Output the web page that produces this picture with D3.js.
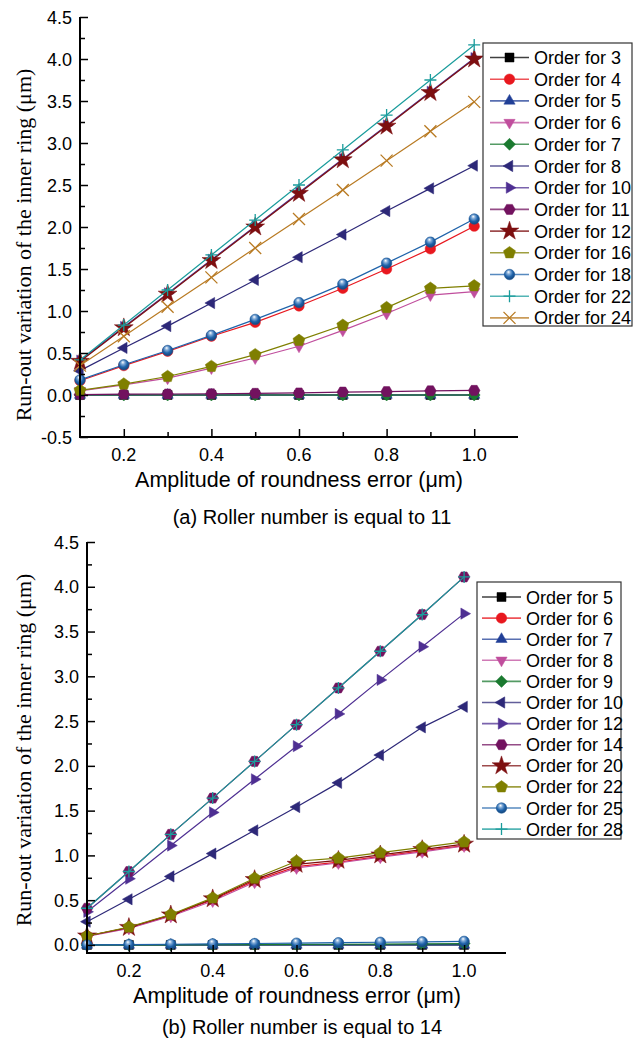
<!DOCTYPE html>
<html>
<head>
<meta charset="utf-8">
<script src="https://cdn.jsdelivr.net/npm/d3@7"></script>
<style>
  body { margin: 0; background: #fff; }
  svg { display: block; }
  .tick-label { font-family: "Liberation Sans", Arial, sans-serif; font-size: 18px; fill: #000; }
  .x-title { font-family: "Liberation Sans", Arial, sans-serif; font-size: 21.5px; fill: #000; }
  .caption { font-family: "Liberation Sans", Arial, sans-serif; font-size: 20px; fill: #000; }
  .legend-text { font-family: "Liberation Sans", Arial, sans-serif; font-size: 18px; fill: #000; }
</style>
</head>
<body>
<svg id="chart" width="634" height="1046"></svg>
<script>
// x values shared by both panels
const amplitudes = [0.1, 0.2, 0.3, 0.4, 0.5, 0.6, 0.7, 0.8, 0.9, 1.0];

// (a) roller number 11
const ordersA = [3, 4, 5, 6, 7, 8, 10, 11, 12, 16, 18, 22, 24];
const a3  = [0, 0, 0, 0, 0, 0, 0, 0, 0, 0];
const a4  = [0.17, 0.35, 0.52, 0.70, 0.865, 1.06, 1.27, 1.50, 1.74, 2.01];
const a5  = [0, 0, 0, 0, 0, 0, 0, 0, 0, 0];
const a6  = [0.05, 0.12, 0.20, 0.32, 0.44, 0.58, 0.77, 0.97, 1.19, 1.23];
const a7  = [0, 0, 0, 0, 0, 0, 0, 0, 0, 0];
const a8  = [0.29, 0.56, 0.82, 1.095, 1.37, 1.64, 1.91, 2.19, 2.46, 2.73];
const a10 = [0.41, 0.81, 1.21, 1.61, 2.01, 2.41, 2.81, 3.21, 3.61, 4.01];
const a11 = [0.005, 0.01, 0.012, 0.015, 0.02, 0.025, 0.035, 0.04, 0.05, 0.055];
const a12 = [0.40, 0.80, 1.20, 1.60, 2.00, 2.40, 2.80, 3.20, 3.60, 4.00];
const a16 = [0.055, 0.13, 0.22, 0.34, 0.48, 0.65, 0.83, 1.04, 1.27, 1.30];
const a18 = [0.18, 0.36, 0.53, 0.71, 0.90, 1.10, 1.32, 1.57, 1.82, 2.095];
const a22 = [0.417, 0.833, 1.25, 1.667, 2.083, 2.50, 2.917, 3.333, 3.75, 4.167];
const a24 = [0.35, 0.70, 1.05, 1.40, 1.75, 2.095, 2.44, 2.79, 3.14, 3.49];
const seriesA = [a3, a4, a5, a6, a7, a8, a10, a11, a12, a16, a18, a22, a24];

// (b) roller number 14
const ordersB = [5, 6, 7, 8, 9, 10, 12, 14, 20, 22, 25, 28];
const b5  = [0, 0, 0, 0, 0, 0, 0, 0, 0, 0];
const b6  = [0.10, 0.19, 0.33, 0.505, 0.715, 0.875, 0.925, 0.99, 1.05, 1.11];
const b7  = [0, 0, 0, 0, 0, 0, 0, 0, 0, 0];
const b8  = [0.095, 0.185, 0.32, 0.49, 0.70, 0.86, 0.915, 0.98, 1.04, 1.105];
const b9  = [0, 0, 0, 0.002, 0.004, 0.006, 0.008, 0.01, 0.012, 0.015];
const b10 = [0.26, 0.51, 0.765, 1.02, 1.28, 1.54, 1.81, 2.12, 2.43, 2.66];
const b12 = [0.37, 0.74, 1.11, 1.48, 1.85, 2.22, 2.58, 2.96, 3.33, 3.70];
const b14 = [0.41, 0.82, 1.235, 1.64, 2.05, 2.46, 2.87, 3.28, 3.69, 4.11];
const b20 = [0.10, 0.195, 0.335, 0.515, 0.73, 0.90, 0.945, 1.005, 1.065, 1.125];
const b22 = [0.10, 0.20, 0.34, 0.525, 0.745, 0.935, 0.97, 1.03, 1.09, 1.15];
const b25 = [0.0, 0.004, 0.008, 0.012, 0.016, 0.02, 0.025, 0.03, 0.035, 0.04];
const b28 = [0.41, 0.82, 1.235, 1.64, 2.05, 2.46, 2.87, 3.28, 3.69, 4.11];
const seriesB = [b5, b6, b7, b8, b9, b10, b12, b14, b20, b22, b25, b28];

const yTicks = [-0.5, 0.0, 0.5, 1.0, 1.5, 2.0, 2.5, 3.0, 3.5, 4.0, 4.5];
const xTicks = [0.2, 0.4, 0.6, 0.8, 1.0];

// styles, in legend order
const stylesA = [
  {c: "#000000", s: "square"},   {c: "#e8181f", s: "circle"},
  {c: "#203f97", s: "triUp"},    {c: "#c04e9d", s: "triDown"},
  {c: "#1b7a30", s: "diamond"},  {c: "#2d2878", s: "triLeft"},
  {c: "#4e2f92", s: "triRight"}, {c: "#72125f", s: "hexagon"},
  {c: "#7d0f10", s: "star"},     {c: "#7f7f00", s: "pentagon"},
  {c: "#1f63aa", s: "sphere"},   {c: "#1a9c9c", s: "plus"},
  {c: "#b87a22", s: "times"}
];
const stylesB = [
  {c: "#000000", s: "square"},   {c: "#e8181f", s: "circle"},
  {c: "#203f97", s: "triUp"},    {c: "#c04e9d", s: "triDown"},
  {c: "#1b7a30", s: "diamond"},  {c: "#2d2878", s: "triLeft"},
  {c: "#4e2f92", s: "triRight"}, {c: "#72125f", s: "hexagon"},
  {c: "#7d0f10", s: "star"},     {c: "#7f7f00", s: "pentagon"},
  {c: "#1f63aa", s: "sphere"},   {c: "#1a9c9c", s: "plus"}
];

const svg = d3.select("#chart");

// sphere gradient
const defs = svg.append("defs");
const grad = defs.append("radialGradient").attr("id", "sphere")
  .attr("cx", "45%").attr("cy", "40%").attr("r", "60%")
  .attr("fx", "40%").attr("fy", "25%");
grad.append("stop").attr("offset", "0%").attr("stop-color", "#ffffff");
grad.append("stop").attr("offset", "30%").attr("stop-color", "#7fa9d6");
grad.append("stop").attr("offset", "65%").attr("stop-color", "#1f63aa");
grad.append("stop").attr("offset", "100%").attr("stop-color", "#15457a");

function polygon(n, r, rot) {
  const pts = d3.range(n).map(i => {
    const a = rot + i * 2 * Math.PI / n;
    return [r * Math.cos(a), r * Math.sin(a)];
  });
  return "M" + pts.map(p => p[0].toFixed(2) + "," + p[1].toFixed(2)).join("L") + "Z";
}

function symbolPath(s) {
  switch (s) {
    case "square":   return "M-4.5,-4.5H4.5V4.5H-4.5Z";
    case "circle":   return polygon(24, 5.2, 0);
    case "triUp":    return polygon(3, 6.5, -Math.PI / 2);
    case "triDown":  return polygon(3, 6.5, Math.PI / 2);
    case "triLeft":  return polygon(3, 6.5, Math.PI);
    case "triRight": return polygon(3, 6.5, 0);
    case "diamond":  return polygon(4, 6, -Math.PI / 2);
    case "hexagon":  return polygon(6, 5.8, 0);
    case "pentagon": return polygon(5, 6.3, -Math.PI / 2);
    case "star":     return d3.symbol(d3.symbolStar, 110)();
    case "plus":     return "M-6,0H6M0,-6V6";
    case "times":    return "M-6,-6L6,6M-6,6L6,-6";
    default:         return polygon(24, 5.2, 0);
  }
}

function drawMarker(g, st, x, y) {
  const stroked = st.s === "plus" || st.s === "times";
  const p = g.append("path")
    .attr("d", symbolPath(st.s))
    .attr("transform", `translate(${x},${y})`);
  if (stroked) {
    p.attr("fill", "none").attr("stroke", st.c).attr("stroke-width", 1.3);
  } else if (st.s === "sphere") {
    p.attr("fill", "url(#sphere)").attr("stroke", "#1a5595").attr("stroke-width", 0.6);
  } else {
    p.attr("fill", st.c).attr("stroke", st.c).attr("stroke-width", 0.5);
  }
}

function panel(cfg) {
  const x = d3.scaleLinear().domain([0.1, 1.1]).range([cfg.x0, cfg.x1]);
  const y = d3.scaleLinear().domain(cfg.yDomain).range([cfg.yBottom, cfg.yTop]);
  const g = svg.append("g");

  // data lines and markers
  const line = d3.line().x((d, i) => x(amplitudes[i])).y(d => y(d));
  cfg.series.forEach((vals, k) => {
    const st = cfg.styles[k];
    const sg = g.append("g");
    sg.append("path").attr("d", line(vals))
      .attr("fill", "none").attr("stroke", st.c).attr("stroke-width", 1.2);
    vals.forEach((v, i) => drawMarker(sg, st, x(amplitudes[i]), y(v)));
  });

  // y axis (ticks inside)
  const yAxis = d3.axisRight(y).tickValues(cfg.yTickVals).tickSize(8).tickFormat("");
  const yMinor = d3.axisRight(y)
    .tickValues(d3.range(cfg.yDomain[0] < -0.3 ? -0.25 : 0.25, 4.5, 0.5)).tickSize(5).tickFormat("");
  g.append("g").attr("transform", `translate(${cfg.x0},0)`).call(yMinor)
    .call(a => a.select(".domain").remove())
    .selectAll("line").attr("stroke", "#000").attr("stroke-width", 1.5);
  const ya = g.append("g").attr("transform", `translate(${cfg.x0},0)`).call(yAxis);
  ya.select(".domain").attr("stroke", "#000").attr("stroke-width", 2)
    .attr("d", `M0,${cfg.yBottom}V${cfg.yTop}`);
  ya.selectAll("line").attr("stroke", "#000").attr("stroke-width", 1.5);
  cfg.yTickVals.forEach(v => {
    g.append("text").attr("class", "tick-label")
      .attr("x", cfg.x0 - 8).attr("y", y(v) + 6.5)
      .attr("text-anchor", "end").text(v.toFixed(1));
  });

  // x axis (ticks inside)
  const xMinor = d3.axisTop(x).tickValues([0.3, 0.5, 0.7, 0.9]).tickSize(5).tickFormat("");
  g.append("g").attr("transform", `translate(0,${cfg.yBottom})`).call(xMinor)
    .call(a => a.select(".domain").remove())
    .selectAll("line").attr("stroke", "#000").attr("stroke-width", 1.5);
  const xa = g.append("g").attr("transform", `translate(0,${cfg.yBottom})`)
    .call(d3.axisTop(x).tickValues(xTicks).tickSize(8).tickFormat(""));
  xa.select(".domain").attr("stroke", "#000").attr("stroke-width", 2)
    .attr("d", `M${cfg.x0 - 1},0H${cfg.x1}`);
  xa.selectAll("line").attr("stroke", "#000").attr("stroke-width", 1.5);
  xTicks.forEach(v => {
    g.append("text").attr("class", "tick-label")
      .attr("x", x(v)).attr("y", cfg.yBottom + 24)
      .attr("text-anchor", "middle").text(v.toFixed(1));
  });

  // titles
  g.append("text").attr("class", "x-title")
    .attr("x", cfg.xTitleX).attr("y", cfg.yBottom + 50)
    .attr("text-anchor", "middle").text("Amplitude of roundness error (μm)");
  g.append("text")
    .attr("font-family", "'Liberation Serif', 'Times New Roman', 'DejaVu Serif', serif")
    .attr("font-size", 22)
    .attr("transform", `translate(31,${cfg.yTitleY}) rotate(-90)`)
    .attr("text-anchor", "middle").text("Run-out variation of the inner ring (μm)");
  g.append("text").attr("class", "caption")
    .attr("x", cfg.capX).attr("y", cfg.capY)
    .attr("text-anchor", "middle").text(cfg.caption);

  // legend
  const L = cfg.legend;
  g.append("rect").attr("x", L.x).attr("y", L.y).attr("width", L.w).attr("height", L.h)
    .attr("fill", "#fff").attr("stroke", "#333").attr("stroke-width", 1.2);
  cfg.orders.forEach((o, k) => {
    const st = cfg.styles[k];
    const cy = L.row0 + k * L.dy;
    const lg = g.append("g");
    lg.append("line").attr("x1", L.lx0).attr("x2", L.lx1).attr("y1", cy).attr("y2", cy)
      .attr("stroke", st.c).attr("stroke-width", 1.6).attr("stroke-opacity", 0.75);
    drawMarker(lg, st, (L.lx0 + L.lx1) / 2, cy);
    lg.append("text").attr("class", "legend-text")
      .attr("x", L.tx).attr("y", cy + 6.5).text("Order for " + o);
  });
}

panel({
  series: seriesA, styles: stylesA, orders: ordersA,
  x0: 80, x1: 518, yTop: 17, yBottom: 437, yDomain: [-0.5, 4.5],
  yTickVals: yTicks, yTitleY: 245, xTitleX: 299,
  caption: "(a) Roller number is equal to 11", capX: 312, capY: 524,
  legend: {x: 483, y: 43, w: 149, h: 283, row0: 57.5, dy: 21.7, lx0: 490, lx1: 529, tx: 534}
});

panel({
  series: seriesB, styles: stylesB, orders: ordersB,
  x0: 87, x1: 506, yTop: 542, yBottom: 953, yDomain: [-0.09, 4.5],
  yTickVals: yTicks.slice(1), yTitleY: 750, xTitleX: 297,
  caption: "(b) Roller number is equal to 14", capX: 302, capY: 1034,
  legend: {x: 477, y: 582, w: 144, h: 257, row0: 597, dy: 21.1, lx0: 482, lx1: 521, tx: 526}
});
</script>
</body>
</html>
